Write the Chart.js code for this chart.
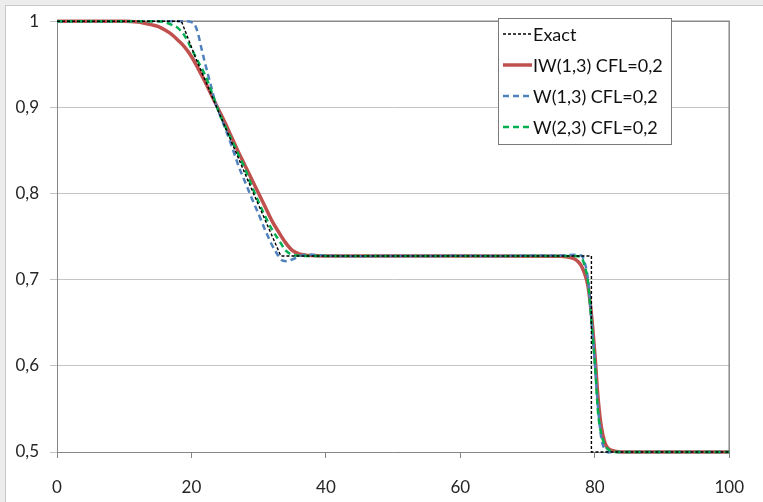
<!DOCTYPE html>
<html>
<head>
<meta charset="utf-8">
<script src="https://cdn.jsdelivr.net/npm/chart.js@4.4.1/dist/chart.umd.min.js"></script>
<style>
  html, body { margin: 0; padding: 0; background: #ececec; }
  #frame { position: absolute; left: 5px; top: 5px; width: 770px; height: 510px; background: #fff; border-left: 1px solid #c8c8c8; border-top: 1px solid #c8c8c8; }
  #chart { position: absolute; left: 0; top: 0; }
</style>
</head>
<body>
<div id="frame"></div>
<canvas id="chart" width="763" height="502"></canvas>
<script>
// exact solution
const exactX = [0, 18.5, 20.7, 24.2, 28.9, 33.3, 79.5, 79.5, 100];
const exactY = [1, 1, 0.956, 0.892, 0.806, 0.7275, 0.7275, 0.5, 0.5];

// IW(1,3) CFL=0,2
const iwX = [0, 10, 12, 14, 15, 16, 17, 18, 19, 20, 21, 22, 23, 24, 25, 26, 27, 28, 29, 30,
  31, 32, 33, 34, 35, 36, 37, 38, 40, 60, 75, 76, 77, 77.5, 78, 78.5, 79, 79.5, 80, 80.5,
  81, 81.5, 82, 83, 84, 100];
const iwY = [1, 1, 0.999, 0.996, 0.994, 0.990, 0.985, 0.978, 0.970, 0.959, 0.945, 0.930, 0.914, 0.898, 0.882, 0.865, 0.848, 0.832, 0.816, 0.800,
  0.784, 0.768, 0.755, 0.743, 0.734, 0.730, 0.7285, 0.728, 0.7275, 0.7275, 0.7272, 0.7262, 0.724, 0.721, 0.716, 0.707, 0.692, 0.660, 0.615, 0.562,
  0.528, 0.511, 0.504, 0.501, 0.5, 0.5];

// W(1,3) CFL=0,2
const w13X = [0, 19, 20, 20.5, 21, 21.5, 22, 22.5, 23, 23.5, 24, 25, 26, 27, 28, 29, 30, 31, 32, 33,
  33.6, 34.2, 35, 36, 37, 38, 40, 45, 50, 55, 60, 65, 70, 75, 77, 78, 78.5, 79, 79.5, 80,
  80.5, 81, 81.5, 82, 83, 100];
const w13Y = [1, 1, 0.999, 0.996, 0.985, 0.968, 0.952, 0.937, 0.922, 0.907, 0.896, 0.876, 0.855, 0.832, 0.813, 0.794, 0.776, 0.757, 0.740, 0.727,
  0.722, 0.7215, 0.7235, 0.727, 0.7288, 0.7288, 0.7278, 0.7272, 0.7276, 0.7274, 0.7278, 0.7275, 0.728, 0.7282, 0.7288, 0.728, 0.72, 0.70, 0.655, 0.605,
  0.55, 0.515, 0.503, 0.4995, 0.5, 0.5];

// W(2,3) CFL=0,2
const w23X = [0, 15, 16, 17, 18, 19, 20, 21, 22, 23, 24, 25, 26, 27, 28, 29, 30, 31, 32, 33,
  34, 35, 36, 37, 60, 77, 78, 78.5, 79, 79.5, 80, 80.5, 81, 81.5, 82, 82.5, 83, 100];
const w23Y = [1, 1, 0.999, 0.996, 0.992, 0.983, 0.968, 0.953, 0.938, 0.918, 0.896, 0.878, 0.862, 0.845, 0.828, 0.808, 0.790, 0.773, 0.758, 0.746,
  0.734, 0.729, 0.728, 0.7275, 0.7275, 0.7275, 0.726, 0.716, 0.697, 0.652, 0.605, 0.545, 0.52, 0.508, 0.503, 0.501, 0.5, 0.5];

const xTicks = [0, 20, 40, 60, 80, 100];
const yTicks = [0.5, 0.6, 0.7, 0.8, 0.9, 1];

const pts = (xs, ys) => xs.map((x, i) => ({ x, y: ys[i] }));
const FONT = "Lato, 'Open Sans', sans-serif";

const frameLines = {
  id: "frameLines",
  beforeDatasetsDraw(chart) {
    const { ctx, chartArea: a } = chart;
    ctx.save();
    ctx.strokeStyle = "#8a8a8a";
    ctx.lineWidth = 1.5;
    ctx.beginPath();
    ctx.moveTo(a.left, a.top);
    ctx.lineTo(a.right, a.top);
    ctx.lineTo(a.right, a.bottom);
    ctx.stroke();
    ctx.restore();
  },
};

const legendBox = {
  id: "legendBox",
  afterDatasetsDraw(chart) {
    const ctx = chart.ctx;
    const x0 = 498.5, y0 = 18.5, w = 173, h = 126;
    ctx.save();
    ctx.fillStyle = "#fff";
    ctx.fillRect(x0, y0, w, h);
    ctx.strokeStyle = "#7a7a7a";
    ctx.lineWidth = 1;
    ctx.strokeRect(x0, y0, w, h);
    ctx.font = "18px " + FONT;
    ctx.textBaseline = "middle";
    chart.data.datasets.forEach((ds, i) => {
      const y = 34 + i * 31;
      ctx.strokeStyle = ds.borderColor;
      ctx.lineWidth = ds.borderWidth;
      ctx.setLineDash(ds.borderDash || []);
      ctx.beginPath();
      ctx.moveTo(503, y);
      ctx.lineTo(532, y);
      ctx.stroke();
      ctx.setLineDash([]);
      ctx.fillStyle = "#111";
      ctx.fillText(ds.label, 533, y + 1);
    });
    ctx.restore();
  },
};

new Chart(document.getElementById("chart"), {
  type: "line",
  data: {
    datasets: [
      { label: "Exact", data: pts(exactX, exactY), borderColor: "#000", borderWidth: 1.4,
        borderDash: [3, 2], tension: 0, order: 0 },
      { label: "IW(1,3) CFL=0,2", data: pts(iwX, iwY), borderColor: "#c0504d", borderWidth: 3.5,
        cubicInterpolationMode: "monotone", order: 3 },
      { label: "W(1,3) CFL=0,2", data: pts(w13X, w13Y), borderColor: "#4f81bd", borderWidth: 2.5,
        borderDash: [6, 4], cubicInterpolationMode: "monotone", order: 2 },
      { label: "W(2,3) CFL=0,2", data: pts(w23X, w23Y), borderColor: "#00b050", borderWidth: 2.5,
        borderDash: [6, 4], cubicInterpolationMode: "monotone", order: 1 },
    ],
  },
  options: {
    responsive: false,
    animation: false,
    devicePixelRatio: 1,
    clip: false,
    layout: { padding: { top: 19, right: 32, left: 0, bottom: 0 } },
    elements: { point: { radius: 0 } },
    plugins: { legend: { display: false }, tooltip: { enabled: false } },
    scales: {
      x: {
        type: "linear", min: 0, max: 100,
        afterBuildTicks: s => { s.ticks = xTicks.map(v => ({ value: v })); },
        afterFit: s => { s.height = 50; },
        ticks: { color: "#262626", font: { family: FONT, size: 17 }, padding: 19, maxRotation: 0 },
        grid: { drawOnChartArea: false, tickLength: 6, color: "#868686" },
        border: { color: "#868686", width: 1 },
      },
      y: {
        min: 0.5, max: 1,
        afterBuildTicks: s => { s.ticks = yTicks.map(v => ({ value: v })); },
        afterFit: s => { s.width = 57; },
        ticks: {
          color: "#262626", font: { family: FONT, size: 17 }, padding: 11,
          callback: v => (v === 1 ? "1" : v.toFixed(1).replace(".", ",")),
        },
        grid: { color: "#c4c4c4", tickLength: 7 },
        border: { color: "#868686", width: 1 },
      },
    },
  },
  plugins: [frameLines, legendBox],
});
</script>
</body>
</html>
